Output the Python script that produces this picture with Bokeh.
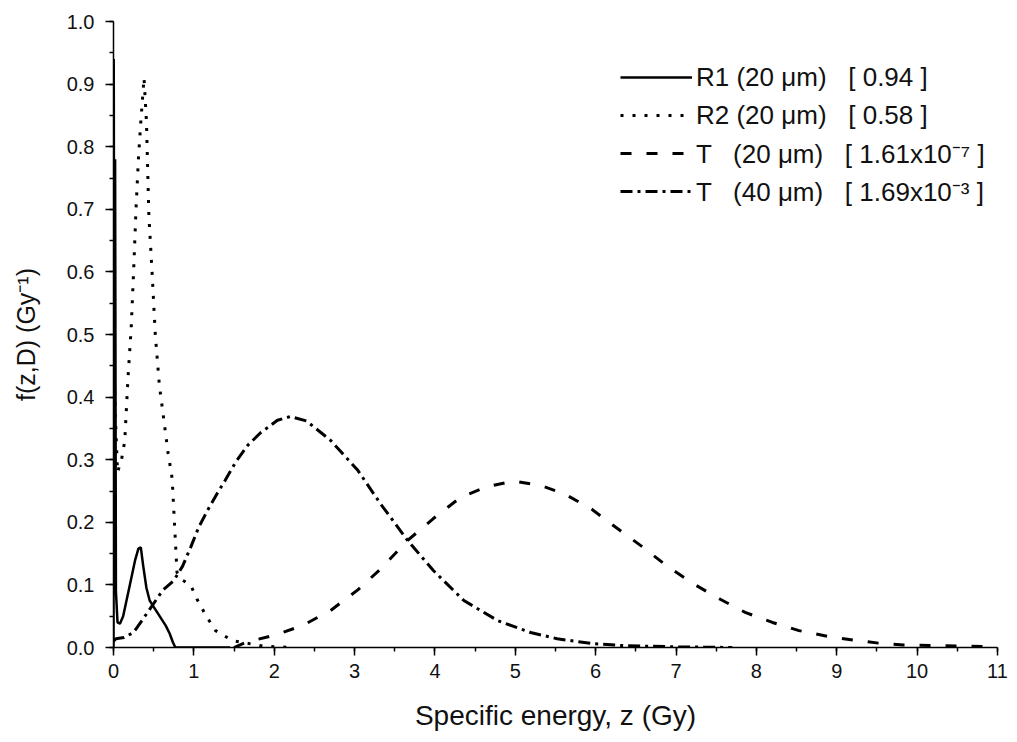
from bokeh.plotting import figure
from bokeh.models import Range1d, SingleIntervalTicker, NumeralTickFormatter, Legend, LegendItem
from bokeh.embed import file_html
from bokeh.resources import INLINE

# R1 (20 um) - solid
r1_z = [0.0, 0.003, 0.012, 0.02, 0.03, 0.05, 0.08, 0.12, 0.17, 0.22, 0.27, 0.31, 0.34, 0.37,
        0.41, 0.45, 0.5, 0.55, 0.6, 0.65, 0.7, 0.74, 0.77, 1.0, 1.45]
r1_f = [0.0, 0.94, 0.25, 0.78, 0.09, 0.04, 0.038, 0.05, 0.08, 0.11, 0.14, 0.158, 0.16, 0.13,
        0.095, 0.075, 0.065, 0.055, 0.045, 0.035, 0.022, 0.008, 0.0, 0.0, 0.0]

# R2 (20 um) - dotted
r2_z = [0.0, 0.003, 0.02, 0.05, 0.1, 0.14, 0.18, 0.22, 0.25, 0.28, 0.31, 0.34, 0.38, 0.41,
        0.44, 0.48, 0.52, 0.57, 0.63, 0.68, 0.73, 0.75, 0.77, 0.79, 0.85, 0.96, 1.04, 1.15,
        1.27, 1.48, 1.87, 2.26]
r2_f = [0.3, 0.48, 0.38, 0.28, 0.3, 0.33, 0.43, 0.51, 0.6, 0.7, 0.78, 0.84, 0.91, 0.84,
        0.69, 0.6, 0.5, 0.42, 0.36, 0.31, 0.27, 0.22, 0.17, 0.12, 0.108, 0.1, 0.077, 0.051,
        0.027, 0.011, 0.002, 0.0]

# T (20 um) - dashed
t20_z = [1.5, 1.64, 2.04, 2.35, 2.7, 3.04, 3.32, 3.66, 3.98, 4.32, 4.65, 4.98, 5.31, 5.6,
         5.94, 6.25, 6.58, 6.91, 7.24, 7.55, 7.86, 8.2, 8.53, 8.88, 9.2, 9.52, 9.83, 10.2,
         10.6, 11.0]
t20_f = [0.0, 0.008, 0.021, 0.035, 0.059, 0.092, 0.125, 0.171, 0.206, 0.24, 0.257, 0.266,
         0.259, 0.246, 0.222, 0.192, 0.161, 0.128, 0.1, 0.077, 0.056, 0.04, 0.027, 0.018,
         0.012, 0.007, 0.004, 0.003, 0.002, 0.001]

# T (40 um) - dash-dot
t40_z = [0.0, 0.03, 0.13, 0.25, 0.44, 0.61, 0.75, 0.86, 0.96, 1.06, 1.17, 1.29, 1.39, 1.52,
         1.67, 1.83, 2.04, 2.2, 2.4, 2.7, 3.04, 3.32, 3.66, 3.98, 4.36, 4.78, 5.19, 5.52,
         5.97, 6.35, 7.0, 7.7]
t40_f = [0.01, 0.014, 0.016, 0.024, 0.059, 0.091, 0.107, 0.13, 0.16, 0.192, 0.219, 0.246,
         0.267, 0.296, 0.323, 0.343, 0.363, 0.369, 0.362, 0.331, 0.283, 0.23, 0.171, 0.123,
         0.075, 0.043, 0.024, 0.014, 0.006, 0.003, 0.001, 0.0]

labels = ["R1 (20 μm)   [ 0.94 ]",
          "R2 (20 μm)   [ 0.58 ]",
          "T   (20 μm)   [ 1.61x10⁻⁷ ]",
          "T   (40 μm)   [ 1.69x10⁻³ ]"]

FONT = "Liberation Sans"

p = figure(width=1017, height=742, x_range=Range1d(0, 11), y_range=Range1d(0, 1),
           output_backend="svg", toolbar_location=None,
           min_border_left=113, min_border_right=20, min_border_top=21, min_border_bottom=95)
p.xgrid.visible = False
p.ygrid.visible = False
p.outline_line_color = None
p.background_fill_color = "white"
p.border_fill_color = "white"

r1 = p.line(r1_z, r1_f, line_color="black", line_width=2.5)
r2 = p.line(r2_z, r2_f, line_color="black", line_width=3, line_dash="3 9")
r3 = p.line(t20_z, t20_f, line_color="black", line_width=3, line_dash="11 15")
r4 = p.line(t40_z, t40_f, line_color="black", line_width=3, line_dash="12 5 3 5")

p.xaxis.ticker = SingleIntervalTicker(interval=1, num_minor_ticks=2)
p.yaxis.ticker = SingleIntervalTicker(interval=0.1, num_minor_ticks=2)
p.xaxis.formatter = NumeralTickFormatter(format="0")
p.yaxis.formatter = NumeralTickFormatter(format="0.0")
p.xaxis.axis_label = "Specific energy, z (Gy)"
p.yaxis.axis_label = "f(z,D) (Gy⁻¹)"

for ax in (p.xaxis[0], p.yaxis[0]):
    ax.axis_line_color = "black"
    ax.axis_line_width = 1.5
    ax.major_tick_line_color = "black"
    ax.major_tick_line_width = 1.5
    ax.minor_tick_line_color = "black"
    ax.minor_tick_line_width = 1.5
    ax.major_tick_out = 8
    ax.major_tick_in = 0
    ax.minor_tick_out = 4
    ax.minor_tick_in = 0
    ax.major_label_text_font = FONT
    ax.major_label_text_font_size = "20px"
    ax.major_label_text_color = "#111111"
    ax.axis_label_text_font = FONT
    ax.axis_label_text_font_style = "normal"
    ax.axis_label_text_color = "#111111"

p.xaxis.major_label_standoff = 8
p.xaxis.axis_label_text_font_size = "28px"
p.xaxis.axis_label_standoff = 19
p.yaxis.major_label_standoff = 11
p.yaxis.axis_label_text_font_size = "25px"
p.yaxis.axis_label_standoff = 24

legend = Legend(items=[LegendItem(label=labels[0], renderers=[r1]),
                       LegendItem(label=labels[1], renderers=[r2]),
                       LegendItem(label=labels[2], renderers=[r3]),
                       LegendItem(label=labels[3], renderers=[r4])],
                location=(507, 438), border_line_color=None, background_fill_alpha=0,
                padding=0, margin=0, spacing=2, glyph_width=72, glyph_height=36,
                label_height=36, label_standoff=4, label_text_font=FONT,
                label_text_font_size="26px", label_text_color="#111111")
p.add_layout(legend)

open("out.html", "w").write(file_html(p, INLINE))
